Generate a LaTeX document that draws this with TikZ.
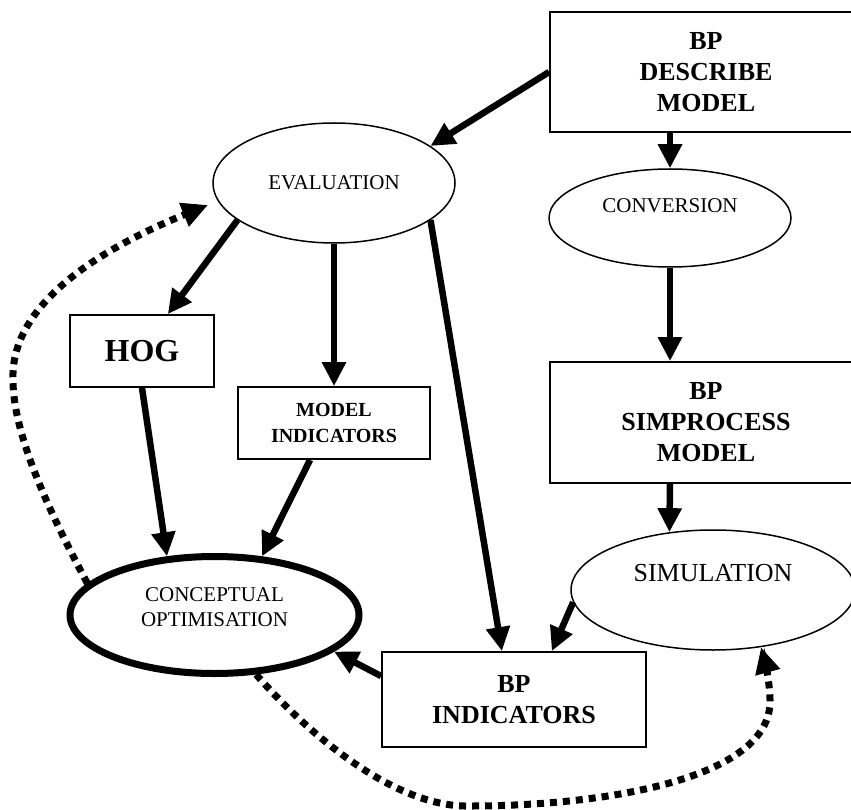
\documentclass[tikz,border=0pt]{standalone}
\usepackage{fontspec}
\setmainfont{Liberation Serif}
\usetikzlibrary{shapes.geometric,arrows.meta}
\begin{document}
\begin{tikzpicture}[x=1pt,y=-1pt,
  box/.style={draw, line width=1.8pt, rectangle, inner sep=0pt, align=center,
              font=\bfseries\fontsize{26}{31}\selectfont},
  oval/.style={draw, line width=1.5pt, ellipse, inner sep=0pt},
  ovaltext/.style={font=\fontsize{21}{25}\selectfont, align=center, inner sep=0pt},
  flow/.style={line width=6.5pt, -{Triangle[length=24pt,width=23pt]}},
  loopback/.style={line width=7pt, dash pattern=on 7pt off 6pt,
                   -{Triangle[length=26pt,width=24pt]}},
]
\useasboundingbox (0,0) rectangle (851,810);

% process boxes
\node[box, minimum width=312pt, minimum height=120pt] (bpd) at (706,72) {BP\\DESCRIBE\\MODEL};
\node[box, minimum width=312pt, minimum height=121pt] (sp) at (706,422.5) {BP\\SIMPROCESS\\MODEL};
\node[box, minimum width=264pt, minimum height=95pt] (bpi) at (514,699.5) {BP\\INDICATORS};
\node[box, minimum width=144pt, minimum height=72pt, font=\bfseries\fontsize{32}{38}\selectfont] (hog) at (142,351) {HOG};
\node[box, minimum width=192pt, minimum height=72pt, font=\bfseries\fontsize{20}{26}\selectfont] (mi) at (334,423) {MODEL\\INDICATORS};

% activity ellipses
\node[oval, minimum width=242pt, minimum height=120pt, font=\fontsize{21}{25}\selectfont] (eval) at (334,183) {EVALUATION};
\node[oval, minimum width=242pt, minimum height=98pt] (conv) at (670,218) {};
\node[ovaltext] (convt) at (670,206) {CONVERSION};
\node[oval, minimum width=284pt, minimum height=120pt] (sim) at (713,590) {};
\node[ovaltext, font=\fontsize{26}{30}\selectfont] (simt) at (713,573) {SIMULATION};
\node[draw, ellipse, line width=7pt, inner sep=0pt, minimum width=289pt, minimum height=117pt] (cop) at (214.5,615) {};
\node[ovaltext] (copt) at (214.5,607.5) {CONCEPTUAL\\OPTIMISATION};

% main flow
\draw[flow] (bpd.west) -- (eval.21);
\draw[flow] (bpd.south -| conv.north) -- (conv.north);
\draw[flow] (conv.south) -- (sp.north -| conv.south);
\draw[flow] (sp.south -| conv.south) -- (sim.127);
\draw[flow] (eval.201) -- (hog.55);
\draw[flow] (eval.south) -- (mi.north);
\draw[flow] (eval.339) -- (bpi.104);
\draw[flow] (sim.185) -- (bpi.52);
\draw[flow] (bpi.170) -- (cop.-17);
\draw[flow] (hog.south) -- (cop.129);
\draw[flow] (mi.237) -- (cop.51);

% feedback loops
\coordinate (fbk) at (208,205);
\draw[loopback] (cop.166) .. controls (58,528) and (13,440) .. (13,380)
                .. controls (10,300) and (110,245) .. (fbk);
\draw[loopback] (cop.-55) .. controls (300,725) and (390,808) .. (470,806)
                .. controls (600,806) and (772,780) .. (770,700)
                .. controls (770,685) and (765,662) .. (sim.-50);
\end{tikzpicture}
\end{document}
